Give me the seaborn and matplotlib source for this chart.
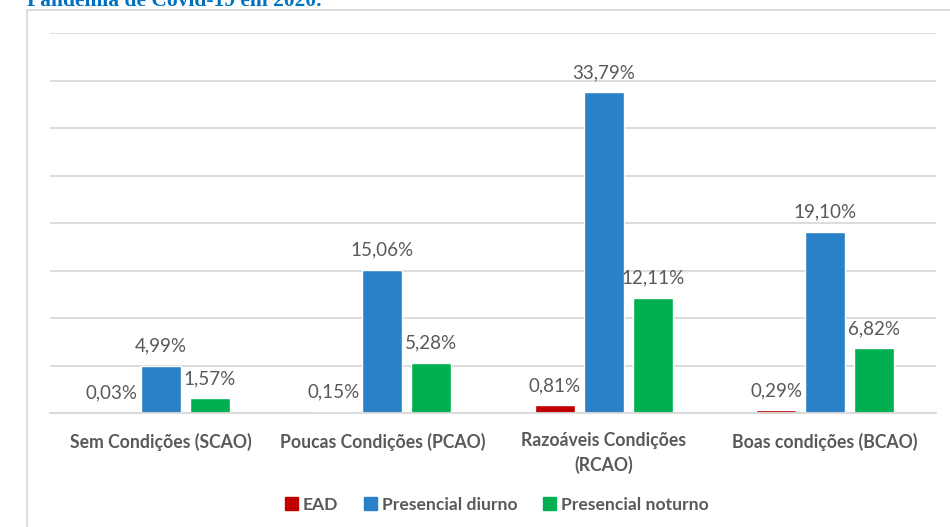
import matplotlib
matplotlib.use("Agg")
import matplotlib.pyplot as plt
import matplotlib.patches as mpatches
import seaborn as sns
import pandas as pd

categories = ["Sem Condições (SCAO)", "Poucas Condições (PCAO)",
              "Razoáveis Condições\n(RCAO)", "Boas condições (BCAO)"]
series = ["EAD", "Presencial diurno", "Presencial noturno"]
ead = [0.03, 0.15, 0.81, 0.29]
diurno = [4.99, 15.06, 33.79, 19.10]
noturno = [1.57, 5.28, 12.11, 6.82]
colors = ["#C00000", "#2A81C8", "#00B050"]

rows = []
for name, vals in zip(series, [ead, diurno, noturno]):
    for cat, v in zip(categories, vals):
        rows.append({"categoria": cat, "modalidade": name, "valor": v})
df = pd.DataFrame(rows)

sns.set_theme(style="white")
plt.rcParams["font.family"] = ["Lato", "DejaVu Sans"]

fig = plt.figure(figsize=(9.5, 5.27), dpi=100)
ax = fig.add_axes([50 / 950, 1 - 413 / 527, 886 / 950, 380 / 527])

sns.barplot(data=df, x="categoria", y="valor", hue="modalidade",
            order=categories, hue_order=series, palette=colors,
            width=0.664, gap=0.18, saturation=1, ax=ax, legend=False,
            errorbar=None)

ax.set_ylim(0, 40)
ax.set_yticks(range(0, 41, 5))
ax.yaxis.grid(True, color="#D9D9D9", linewidth=1.3)
ax.set_axisbelow(True)
ax.tick_params(axis="y", left=False, labelleft=False)
ax.tick_params(axis="x", bottom=False, pad=8)
for s in ["top", "right", "left"]:
    ax.spines[s].set_visible(False)
ax.spines["bottom"].set_color("#D9D9D9")
ax.spines["bottom"].set_linewidth(1.3)
ax.set_xlabel("")
ax.set_ylabel("")
for lbl in ax.get_xticklabels():
    lbl.set_fontsize(12.7)
    lbl.set_fontweight("bold")
    lbl.set_color("#595959")
    lbl.set_linespacing(1.45)

for cont in ax.containers:
    labels = [f"{b.get_height():.2f}%".replace(".", ",") for b in cont]
    ax.bar_label(cont, labels=labels, padding=8, fontsize=13.5,
                 color="#595959")

handles = [mpatches.Patch(color=c, label=s) for c, s in zip(colors, series)]
fig.legend(handles=handles, loc="center", bbox_to_anchor=(0.523, 1 - 505 / 527),
           ncol=3, frameon=False, handlelength=0.75, handleheight=0.75,
           handletextpad=0.3, columnspacing=1.45,
           prop={"size": 12.6, "weight": "bold"}, labelcolor="#595959")

# outer chart frame
fig.patches.append(mpatches.Rectangle((27 / 950, -0.05), 1.0, 1 - 10 / 527 + 0.05,
                                      transform=fig.transFigure, fill=False,
                                      edgecolor="#D9D9D9", linewidth=1.3))

fig.text(27 / 950, 1 - 6 / 527, "Pandemia de Covid-19 em 2020.",
         family="Liberation Serif", fontweight="bold", fontsize=15.5,
         color="#0070C0", ha="left", va="baseline")

fig.savefig("out.png", dpi=100)
